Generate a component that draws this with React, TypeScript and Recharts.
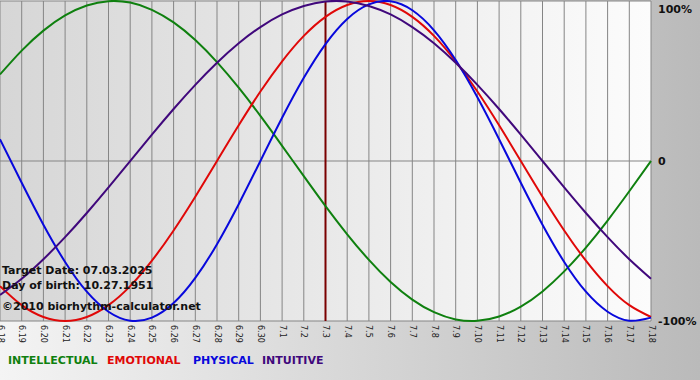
import React from 'react';
import { LineChart, Line, XAxis, YAxis, CartesianGrid, ReferenceLine } from 'recharts';

const days = [
  '6.18', '6.19', '6.20', '6.21', '6.22', '6.23', '6.24', '6.25', '6.26', '6.27', '6.28', '6.29', '6.30',
  '7.1', '7.2', '7.3', '7.4', '7.5', '7.6', '7.7', '7.8', '7.9', '7.10', '7.11', '7.12', '7.13', '7.14',
  '7.15', '7.16', '7.17', '7.18',
];

// values in percent, one per day
const intellectual = [54.1, 69.0, 81.5, 91.0, 97.2, 99.9, 99.0, 94.5, 86.6, 75.6, 61.8, 45.8, 28.2, 9.5, -9.5, -28.2, -45.8, -61.8, -75.6, -86.6, -94.5, -99.0, -99.9, -97.2, -91.0, -81.5, -69.0, -54.1, -37.2, -18.9, 0];
const emotional = [-78.2, -90.1, -97.5, -100, -97.5, -90.1, -78.2, -62.3, -43.4, -22.3, 0, 22.3, 43.4, 62.3, 78.2, 90.1, 97.5, 100, 97.5, 90.1, 78.2, 62.3, 43.4, 22.3, 0, -22.3, -43.4, -62.3, -78.2, -90.1, -97.5];
const physical = [13.6, -13.6, -39.8, -63.1, -81.7, -94.2, -99.8, -97.9, -88.8, -73.1, -52.0, -27.0, 0, 27.0, 52.0, 73.1, 88.8, 97.9, 99.8, 94.2, 81.7, 63.1, 39.8, 13.6, -13.6, -39.8, -63.1, -81.7, -94.2, -99.8, -97.9];
const intuitive = [-83.7, -73.6, -61.4, -47.6, -32.5, -16.5, 0, 16.5, 32.5, 47.6, 61.4, 73.6, 83.7, 91.6, 96.9, 99.7, 99.7, 96.9, 91.6, 83.7, 73.6, 61.4, 47.6, 32.5, 16.5, 0, -16.5, -32.5, -47.6, -61.4, -73.6];

const yTicks = [-100, 0, 100];
const targetDay = '7.3';

const data = days.map((day, i) => ({
  day,
  intellectual: intellectual[i],
  emotional: emotional[i],
  physical: physical[i],
  intuitive: intuitive[i],
}));

const FONT = '"DejaVu Sans", Verdana, sans-serif';

const COLORS = {
  intellectual: '#0f800f',
  emotional: '#e00808',
  physical: '#0808dc',
  intuitive: '#40087c',
};

const DayTick = (props: any) => {
  const { x, y, payload } = props;
  return (
    <text
      transform={`translate(${x},${y}) rotate(90)`}
      textAnchor="start"
      dominantBaseline="central"
      fontSize={8}
      fontFamily={FONT}
      fill="#1a1a1a"
    >
      {payload.value}
    </text>
  );
};

const PctTick = (props: any) => {
  const { x, y, payload } = props;
  const v = payload.value;
  const label = v === 0 ? '0' : `${v}%`;
  const cy = Math.max(y, 8);
  return (
    <text x={x - 1} y={cy + 4} textAnchor="start" fontSize={11} fontWeight="bold" fontFamily={FONT} fill="#111">
      {label}
    </text>
  );
};

const legendItems = [
  { name: 'INTELLECTUAL', color: COLORS.intellectual, left: 8 },
  { name: 'EMOTIONAL', color: COLORS.emotional, left: 107 },
  { name: 'PHYSICAL', color: COLORS.physical, left: 193 },
  { name: 'INTUITIVE', color: COLORS.intuitive, left: 262 },
];

const infoLines = [
  { text: 'Target Date: 07.03.2025', top: 264 },
  { text: 'Day of birth: 10.27.1951', top: 279 },
  { text: '\u00a92010 biorhythm-calculator.net', top: 300 },
];

export default function App() {
  return (
    <div
      style={{
        position: 'absolute',
        left: 0,
        top: 0,
        width: 700,
        height: 380,
        background: 'linear-gradient(to right, #f4f4f4, #bababa)',
        overflow: 'hidden',
      }}
    >
      <LineChart width={700} height={380} data={data} margin={{ top: 1, right: 0, left: 0, bottom: 19 }}>
        <defs>
          <linearGradient id="plotBg" x1="0" y1="0" x2="1" y2="0">
            <stop offset="0%" stopColor="#d6d6d6" />
            <stop offset="100%" stopColor="#fcfcfc" />
          </linearGradient>
        </defs>
        <CartesianGrid stroke="#858585" fill="url(#plotBg)" fillOpacity={1} />
        <XAxis
          dataKey="day"
          interval={0}
          height={40}
          tickLine={false}
          axisLine={false}
          tickSize={4}
          tickMargin={0}
          tick={<DayTick />}
        />
        <YAxis
          orientation="right"
          width={49}
          domain={[-100, 100]}
          ticks={yTicks}
          axisLine={false}
          tickLine={false}
          tick={<PctTick />}
        />
        <ReferenceLine x={targetDay} stroke="#7a0000" strokeWidth={2} />
        <Line type="natural" dataKey="intellectual" stroke={COLORS.intellectual} strokeWidth={2} dot={false} isAnimationActive={false} />
        <Line type="natural" dataKey="emotional" stroke={COLORS.emotional} strokeWidth={2} dot={false} isAnimationActive={false} />
        <Line type="natural" dataKey="physical" stroke={COLORS.physical} strokeWidth={2} dot={false} isAnimationActive={false} />
        <Line type="natural" dataKey="intuitive" stroke={COLORS.intuitive} strokeWidth={2} dot={false} isAnimationActive={false} />
      </LineChart>
      {infoLines.map((l) => (
        <div
          key={l.text}
          style={{
            position: 'absolute',
            left: 2,
            top: l.top,
            fontFamily: FONT,
            fontWeight: 'bold',
            fontSize: 11,
            lineHeight: '14px',
            color: '#111',
            whiteSpace: 'nowrap',
          }}
        >
          {l.text}
        </div>
      ))}
      {legendItems.map((it) => (
        <div
          key={it.name}
          style={{
            position: 'absolute',
            left: it.left,
            top: 354,
            fontFamily: FONT,
            fontWeight: 'bold',
            fontSize: 11,
            lineHeight: '14px',
            color: it.color,
            whiteSpace: 'nowrap',
          }}
        >
          {it.name}
        </div>
      ))}
    </div>
  );
}
